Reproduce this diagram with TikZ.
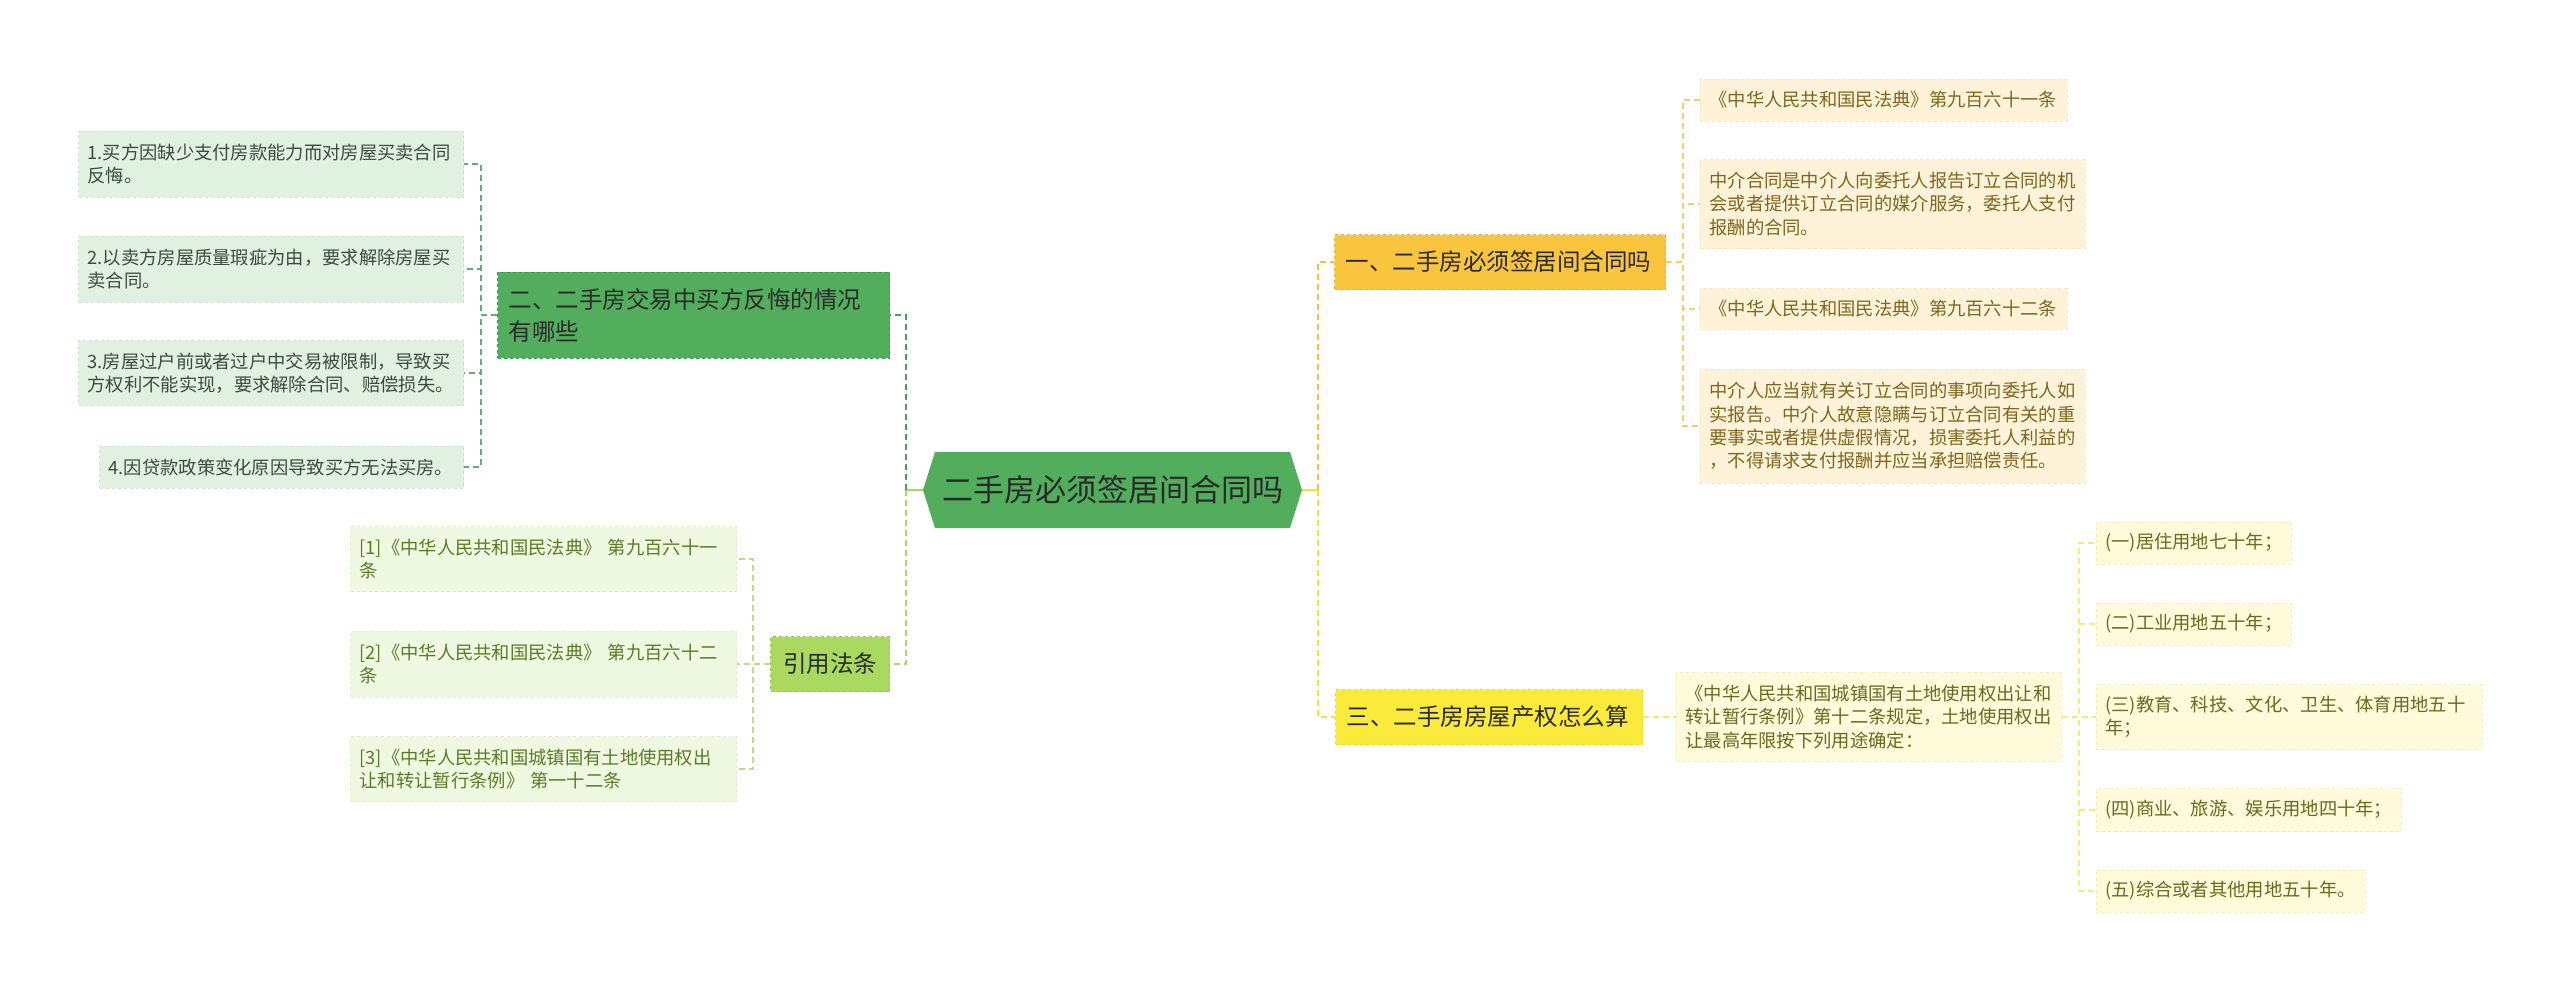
\documentclass[tikz,border=0pt]{standalone}
\usepackage{fontspec}
\setmainfont{Noto Sans CJK SC}
\usetikzlibrary{shapes.symbols}

\definecolor{rootfill}{HTML}{52AE5C}
\definecolor{roottext}{HTML}{2A2A2A}
\definecolor{greenfill}{HTML}{52AE5C}
\definecolor{greenedge}{HTML}{3E9A4A}
\definecolor{greenlink}{HTML}{4A9F57}
\definecolor{greenleaf}{HTML}{E0F0E1}
\definecolor{greenleafedge}{HTML}{CFE4D0}
\definecolor{greentext}{HTML}{3B4B3D}
\definecolor{limefill}{HTML}{A9D95F}
\definecolor{limeedge}{HTML}{95C94A}
\definecolor{limelink}{HTML}{A8D866}
\definecolor{limeleaf}{HTML}{EFF8E1}
\definecolor{limeleafedge}{HTML}{E0EEC8}
\definecolor{limetext}{HTML}{5B7B25}
\definecolor{orangefill}{HTML}{FAC53E}
\definecolor{orangeedge}{HTML}{EFB02A}
\definecolor{orangelink}{HTML}{F5C142}
\definecolor{creamleaf}{HTML}{FEF3D8}
\definecolor{creamleafedge}{HTML}{F6E6BE}
\definecolor{creamtext}{HTML}{7E661E}
\definecolor{yellowfill}{HTML}{FAEA3C}
\definecolor{yellowedge}{HTML}{EFDB25}
\definecolor{yellowlink}{HTML}{F0E23E}
\definecolor{paleleaf}{HTML}{FFFAD9}
\definecolor{paleleafedge}{HTML}{F3EDC0}
\definecolor{paletext}{HTML}{6A6920}

\begin{document}
\begin{tikzpicture}[x=1pt, y=-1pt,
  box/.style={rectangle, inner xsep=9pt, inner ysep=0pt, align=left},
  leaf/.style={box, dashed, line width=0.8pt, font=\fontsize{18.3}{23.3}\selectfont},
  branch/.style={box, inner xsep=11pt, dashed, line width=1pt, text=roottext,
    font=\fontsize{23.5}{32}\selectfont},
  link/.style={dashed, dash pattern=on 6pt off 4pt, line width=1.8pt},
  stub/.style={line width=1.8pt}]

\useasboundingbox (0,0) rectangle (2560,991);

% centre
\node[shape=signal, signal to=west and east, signal pointer angle=145,
  fill=rootfill, minimum width=379pt, minimum height=76pt, inner sep=0pt,
  text=roottext, font=\fontsize{31}{31}\selectfont] (root) at (1112.5,490) {二手房必须签居间合同吗};

% branch: 二、
\node[branch, fill=greenfill, draw=greenedge, text width=370pt, minimum height=86pt, anchor=east]
  (two) at (890,315) {二、二手房交易中买方反悔的情况\\有哪些};
\node[leaf, fill=greenleaf, draw=greenleafedge, text=greentext, text width=367pt, minimum height=66pt, anchor=east]
  (a1) at (464,164) {1.买方因缺少支付房款能力而对房屋买卖合同\\反悔。};
\node[leaf, fill=greenleaf, draw=greenleafedge, text=greentext, text width=367pt, minimum height=66pt, anchor=east]
  (a2) at (464,269) {2.以卖方房屋质量瑕疵为由，要求解除房屋买\\卖合同。};
\node[leaf, fill=greenleaf, draw=greenleafedge, text=greentext, text width=367pt, minimum height=65pt, anchor=east]
  (a3) at (464,373) {3.房屋过户前或者过户中交易被限制，导致买\\方权利不能实现，要求解除合同、赔偿损失。};
\node[leaf, fill=greenleaf, draw=greenleafedge, text=greentext, text width=346pt, minimum height=42pt, anchor=east]
  (a4) at (464,467) {4.因贷款政策变化原因导致买方无法买房。};

% branch: 引用法条
\node[branch, fill=limefill, draw=limeedge, text width=97pt, align=center, minimum height=55pt, anchor=east]
  (cite) at (890,664) {引用法条};
\node[leaf, fill=limeleaf, draw=limeleafedge, text=limetext, text width=368pt, minimum height=65pt, anchor=east]
  (c1) at (737,559) {[1]《中华人民共和国民法典》 第九百六十一\\条};
\node[leaf, fill=limeleaf, draw=limeleafedge, text=limetext, text width=368pt, minimum height=66pt, anchor=east]
  (c2) at (737,664) {[2]《中华人民共和国民法典》 第九百六十二\\条};
\node[leaf, fill=limeleaf, draw=limeleafedge, text=limetext, text width=368pt, minimum height=65pt, anchor=east]
  (c3) at (737,769) {[3]《中华人民共和国城镇国有土地使用权出\\让和转让暂行条例》 第一十二条};

% branch: 一、
\node[branch, fill=orangefill, draw=orangeedge, text width=309pt, minimum height=55pt, anchor=west]
  (one) at (1334,262) {一、二手房必须签居间合同吗};
\node[leaf, fill=creamleaf, draw=creamleafedge, text=creamtext, text width=349pt, minimum height=42pt, anchor=west]
  (b1) at (1700,100) {《中华人民共和国民法典》第九百六十一条};
\node[leaf, fill=creamleaf, draw=creamleafedge, text=creamtext, text width=367pt, minimum height=89pt, anchor=west]
  (b2) at (1700,204) {中介合同是中介人向委托人报告订立合同的机\\会或者提供订立合同的媒介服务，委托人支付\\报酬的合同。};
\node[leaf, fill=creamleaf, draw=creamleafedge, text=creamtext, text width=349pt, minimum height=41pt, anchor=west]
  (b3) at (1700,309) {《中华人民共和国民法典》第九百六十二条};
\node[leaf, fill=creamleaf, draw=creamleafedge, text=creamtext, text width=367pt, minimum height=114pt, anchor=west]
  (b4) at (1700,426) {中介人应当就有关订立合同的事项向委托人如\\实报告。中介人故意隐瞒与订立合同有关的重\\要事实或者提供虚假情况，损害委托人利益的\\，不得请求支付报酬并应当承担赔偿责任。};

% branch: 三、
\node[branch, fill=yellowfill, draw=yellowedge, text width=285pt, minimum height=55pt, anchor=west]
  (three) at (1335,717) {三、二手房房屋产权怎么算};
\node[leaf, fill=paleleaf, draw=paleleafedge, text=paletext, text width=367pt, minimum height=89pt, anchor=west]
  (rule) at (1676,717) {《中华人民共和国城镇国有土地使用权出让和\\转让暂行条例》第十二条规定，土地使用权出\\让最高年限按下列用途确定：};
\node[leaf, fill=paleleaf, draw=paleleafedge, text=paletext, text width=177pt, minimum height=42pt, anchor=west]
  (d1) at (2096,543) {(一)居住用地七十年；};
\node[leaf, fill=paleleaf, draw=paleleafedge, text=paletext, text width=177pt, minimum height=42pt, anchor=west]
  (d2) at (2096,624) {(二)工业用地五十年；};
\node[leaf, fill=paleleaf, draw=paleleafedge, text=paletext, text width=368pt, minimum height=65pt, anchor=west]
  (d3) at (2096,717) {(三)教育、科技、文化、卫生、体育用地五十\\年；};
\node[leaf, fill=paleleaf, draw=paleleafedge, text=paletext, text width=287pt, minimum height=43pt, anchor=west]
  (d4) at (2096,810) {(四)商业、旅游、娱乐用地四十年；};
\node[leaf, fill=paleleaf, draw=paleleafedge, text=paletext, text width=251pt, minimum height=42pt, anchor=west]
  (d5) at (2096,891) {(五)综合或者其他用地五十年。};

% links from the centre
\draw[stub, limelink] (root.west) -- ++(-17,0);
\draw[stub, yellowlink] (root.east) -- ++(16,0);
\draw[link, greenlink] ([xshift=-17pt]root.west) |- (two.east);
\draw[link, limelink] ([xshift=-17pt]root.west) |- (cite.east);
\draw[link, orangelink] ([xshift=16pt]root.east) |- (one.west);
\draw[link, yellowlink] ([xshift=16pt]root.east) |- (three.west);

% links to the leaves
\foreach \n in {a1,a2,a3,a4}
  \draw[link, greenlink!85!white] (two.west) -- ++(-16,0) |- (\n.east);
\foreach \n in {c1,c2,c3}
  \draw[link, limelink!80!white] (cite.west) -- ++(-17,0) |- (\n.east);
\foreach \n in {b1,b2,b3,b4}
  \draw[link, orangelink!80!white] (one.east) -- ++(17,0) |- (\n.west);
\draw[link, yellowlink!80!white] (three.east) -- (rule.west);
\foreach \n in {d1,d2,d3,d4,d5}
  \draw[link, yellowlink!70!white] (rule.east) -- ++(17,0) |- (\n.west);

\end{tikzpicture}
\end{document}
